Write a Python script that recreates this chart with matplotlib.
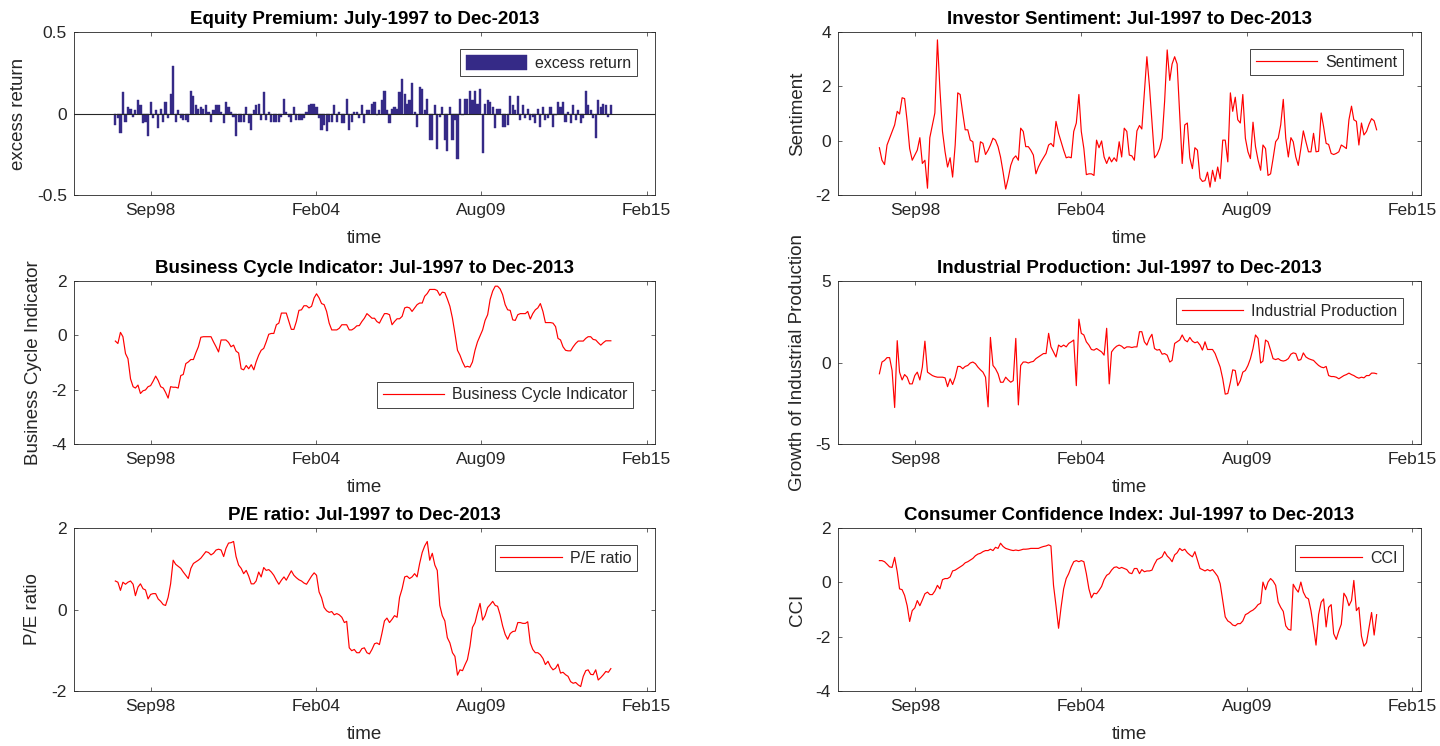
import matplotlib
matplotlib.use('Agg')
import matplotlib.pyplot as plt
import pandas as pd
from matplotlib.ticker import FormatStrFormatter

plt.rcParams['font.family'] = ['Liberation Sans', 'DejaVu Sans']
plt.rcParams['axes.unicode_minus'] = False

start_month = '1997-07-01'
tick_dates = ['1998-09-03', '2004-02-24', '2009-08-17', '2015-02-06']
tick_labels = ['Sep98', 'Feb04', 'Aug09', 'Feb15']
x_limits = ['1996-02-17', '2015-05-20']

equity = [-0.07,-0.03,-0.12,0.13,-0.05,0.04,0.03,-0.02,0.02,0.08,
0.05,-0.06,-0.05,-0.14,0.07,-0.03,0.02,-0.09,0.03,-0.05,
0.07,-0.03,0.12,0.29,-0.05,0.02,-0.03,-0.04,-0.04,-0.05,
0.14,0.11,0.05,0.03,0.04,0.03,0.05,0.01,-0.05,0.02,
0.05,0.05,0.01,-0.06,0.07,0.04,0.01,-0.02,-0.14,-0.05,
-0.05,-0.05,0.04,-0.06,-0.10,0.02,0.05,0.06,-0.04,0.13,
-0.04,0.01,-0.05,-0.05,-0.05,-0.05,-0.02,0.09,0.01,-0.02,
-0.05,0.04,-0.04,-0.04,-0.04,-0.03,0.01,0.05,0.06,0.06,
0.04,-0.03,-0.10,-0.07,-0.11,-0.05,-0.05,0.05,-0.05,0.01,
-0.06,-0.06,0.09,-0.10,-0.05,0.01,0.01,-0.03,0.05,-0.06,
0.02,0.02,0.06,0.07,-0.01,0.02,0.08,0.14,0.02,-0.06,
0.03,0.04,0.03,0.13,0.21,0.12,0.06,0.08,0.19,0.01,
-0.08,0.16,0.15,0.02,0.09,-0.16,-0.16,0.05,-0.22,-0.02,
0.04,-0.16,-0.23,0.04,-0.16,-0.04,-0.28,0.09,-0.01,0.09,
0.09,0.14,0.08,0.14,0.06,0.15,-0.24,0.06,0.08,0.07,
0.04,-0.09,0.03,0.03,-0.08,-0.08,-0.07,0.11,0.05,0.02,
0.11,-0.04,0.05,-0.03,0.03,-0.04,-0.02,-0.06,0.03,-0.08,
0.04,-0.04,-0.03,0.04,-0.08,-0.01,0.07,0.04,0.07,-0.05,
0.01,-0.06,0.05,-0.04,0.02,-0.06,-0.03,0.14,0.05,0.02,
-0.03,-0.15,0.08,0.04,0.06,0.05,-0.02,0.05]

sentiment = [-0.26,-0.72,-0.88,-0.16,0.09,0.34,0.58,1.08,0.98,1.58,
1.55,0.71,-0.29,-0.72,-0.53,-0.35,0.11,-0.84,-0.72,-1.75,
0.11,0.58,1.02,3.71,1.89,0.34,-0.41,-0.97,-0.63,-1.34,
-0.16,1.76,1.70,1.02,0.40,0.40,0.02,-0.04,-0.78,-0.78,
-0.04,-0.10,-0.51,-0.35,-0.16,0.09,0.02,-0.22,-0.60,-1.16,
-1.78,-1.40,-0.91,-0.66,-0.56,-0.72,0.46,0.34,-0.22,-0.22,
-0.35,-0.53,-1.22,-0.97,-0.78,-0.63,-0.47,-0.16,-0.10,-0.22,
0.71,0.27,-0.04,-0.35,-0.63,-0.60,-0.63,0.34,0.65,
1.70,0.34,-0.29,-1.25,-1.22,-1.22,-1.28,0.02,-0.26,-0.01,
-0.60,-0.84,-0.60,-0.78,-0.63,-0.76,-0.04,-0.60,0.46,0.34,
-0.53,-0.56,-0.72,0.36,0.56,0.43,1.76,3.09,2.01,0.71,
-0.63,-0.51,-0.29,0.09,1.45,3.34,2.22,2.82,3.09,2.82,
0.96,-0.84,0.58,0.65,-0.63,-1.03,-0.26,-0.35,-1.38,-1.50,
-1.47,-1.16,-1.71,-1.09,-1.50,-0.97,-1.40,0.02,0.02,-0.78,
1.76,1.08,1.60,0.77,0.65,1.70,0.09,-0.41,-0.66,0.68,
-0.22,-0.72,-1.09,-0.16,-0.29,-1.28,-1.22,-0.66,-0.04,0.09,
0.58,1.52,0.09,-0.60,0.11,-0.04,-0.60,-0.91,-0.29,0.36,
-0.04,-0.41,-0.41,0.27,-0.41,-0.39,1.02,0.52,-0.10,-0.14,
-0.47,-0.51,-0.47,-0.41,-0.16,-0.22,-0.29,0.77,1.27,0.77,
0.71,-0.16,0.65,0.21,0.34,0.61,0.81,0.73,0.40]

business_cycle = [-0.21,-0.30,0.11,-0.05,-0.67,-0.86,-1.60,-1.89,-1.94,-1.83,
-2.14,-2.04,-2.01,-1.89,-1.85,-1.69,-1.50,-1.66,-1.89,-1.94,
-2.10,-2.31,-1.89,-1.91,-1.91,-1.94,-1.48,-1.44,-1.04,-0.98,
-0.89,-0.89,-0.65,-0.42,-0.07,-0.05,-0.05,-0.05,-0.05,-0.24,
-0.42,-0.61,-0.17,-0.17,-0.17,-0.26,-0.42,-0.36,-0.58,-0.65,
-1.23,-1.27,-1.11,-1.23,-1.08,-1.27,-0.98,-0.73,-0.55,-0.48,
-0.24,0.04,0.07,0.07,0.39,0.45,0.82,0.82,0.82,0.51,
0.22,0.22,0.51,0.92,0.94,1.09,1.09,1.01,1.07,1.38,
1.53,1.38,1.17,1.13,0.88,0.45,0.20,0.20,0.20,0.26,
0.39,0.39,0.39,0.20,0.20,0.26,0.35,0.36,0.51,0.63,
0.80,0.72,0.63,0.63,0.51,0.45,0.63,0.80,0.80,0.76,
0.39,0.51,0.61,0.61,0.70,1.01,1.04,1.01,0.88,1.01,
1.13,1.19,1.19,1.44,1.54,1.69,1.69,1.69,1.65,1.47,
1.59,1.57,1.34,1.07,0.63,0.07,-0.55,-0.73,-0.98,-1.17,
-1.14,-1.17,-0.98,-0.55,-0.24,-0.02,0.20,0.55,0.76,1.32,
1.63,1.81,1.81,1.71,1.50,1.13,0.94,0.92,0.57,0.55,
0.76,0.80,0.80,0.80,0.88,0.60,0.80,0.94,1.01,1.17,
0.88,0.47,0.47,0.47,0.45,0.32,-0.11,-0.17,-0.42,-0.55,
-0.57,-0.57,-0.42,-0.30,-0.21,-0.21,-0.21,-0.11,-0.05,-0.05,
-0.15,-0.17,-0.27,-0.36,-0.27,-0.20,-0.20,-0.20]

industrial_production = [-0.69,0.03,0.13,0.30,0.30,-0.49,-2.76,1.34,-0.59,-1.07,
-0.74,-0.90,-1.31,-1.31,-0.80,-0.59,-1.07,-0.28,1.31,-0.59,
-0.69,-0.80,-0.86,-0.90,-0.90,-0.90,-0.94,-1.48,-1.00,-1.35,
-0.90,-0.24,-0.24,-0.38,-0.24,-0.18,-0.03,0.03,-0.07,-0.28,
-0.45,-0.59,-0.90,-2.72,1.54,-0.18,-0.38,-0.69,-1.21,-1.21,
-0.90,-1.07,-1.21,-1.11,1.48,-2.60,-0.18,0.03,0.03,-0.03,
0.03,0.07,0.24,0.34,0.45,0.55,0.55,1.79,0.96,0.65,
0.34,1.07,0.96,1.07,0.96,1.17,1.27,1.38,-1.42,2.66,
1.79,1.69,1.27,1.07,0.80,0.76,0.86,0.76,0.65,0.45,
2.10,-1.31,0.65,0.86,1.00,1.07,1.00,0.86,0.96,0.96,
0.92,0.96,0.96,1.89,1.89,1.27,1.07,1.48,1.73,0.86,
0.76,0.80,0.51,0.55,0.45,0.03,0.13,1.17,1.27,1.38,
1.69,1.38,1.27,1.54,1.31,1.21,1.27,1.07,0.76,1.27,
0.80,0.80,0.80,0.55,0.13,-0.28,-1.00,-1.94,-1.90,-1.21,
-0.45,-0.49,-1.42,-1.11,-0.59,-0.49,-0.18,0.24,0.86,1.69,
1.48,-0.03,0.09,1.38,1.27,0.76,0.24,0.18,0.24,0.13,
0.09,0.13,0.24,0.51,0.59,0.55,0.13,0.18,0.59,0.34,
0.24,0.18,0.13,-0.03,-0.18,-0.28,-0.32,-0.24,-0.80,-0.86,
-0.86,-0.90,-1.00,-0.90,-0.80,-0.74,-0.65,-0.74,-0.80,-0.90,
-0.96,-0.90,-0.94,-0.80,-0.80,-0.65,-0.65,-0.69]

pe_ratio = [0.70,0.67,0.47,0.67,0.62,0.67,0.70,0.62,0.34,0.55,
0.63,0.51,0.48,0.26,0.37,0.39,0.39,0.26,0.20,0.12,
0.10,0.30,0.63,1.21,1.11,1.06,1.01,0.92,0.84,0.76,
1.01,1.13,1.17,1.21,1.26,1.34,1.42,1.40,1.34,1.38,
1.46,1.48,1.46,1.30,1.50,1.63,1.64,1.67,1.30,1.09,
1.01,0.88,0.96,0.82,0.63,0.63,0.70,0.92,0.80,1.03,
0.96,0.98,0.92,0.84,0.72,0.62,0.72,0.80,0.72,0.84,
0.95,0.84,0.78,0.73,0.70,0.65,0.62,0.72,0.82,0.90,
0.84,0.43,0.29,0.05,-0.03,-0.07,-0.05,-0.13,-0.10,-0.13,
-0.19,-0.32,-0.29,-0.94,-1.01,-0.98,-1.06,-1.06,-0.96,-0.94,
-1.06,-1.09,-0.98,-0.84,-0.82,-0.86,-0.59,-0.28,-0.21,-0.32,
-0.24,-0.15,-0.19,0.30,0.51,0.80,0.82,0.76,0.80,0.88,
0.80,1.13,1.40,1.56,1.67,1.21,1.38,1.09,0.96,0.10,
-0.15,-0.28,-0.69,-0.82,-1.06,-1.15,-1.61,-1.48,-1.50,-1.35,
-1.23,-0.90,-0.44,-0.32,-0.07,0.15,-0.26,-0.15,0.05,0.12,
0.20,0.10,0.08,-0.13,-0.40,-0.61,-0.73,-0.59,-0.54,-0.53,
-0.32,-0.32,-0.34,-0.34,-0.30,-0.82,-0.98,-1.06,-1.06,-1.11,
-1.20,-1.35,-1.27,-1.40,-1.48,-1.44,-1.34,-1.56,-1.54,-1.60,
-1.64,-1.77,-1.81,-1.79,-1.85,-1.89,-1.64,-1.50,-1.48,
-1.59,-1.60,-1.48,-1.73,-1.67,-1.60,-1.52,-1.54,-1.45]

cci = [0.80,0.80,0.76,0.67,0.57,0.55,0.92,0.39,-0.24,-0.27,
-0.48,-0.86,-1.44,-1.04,-0.94,-0.67,-0.86,-0.65,-0.42,-0.36,
-0.45,-0.45,-0.32,-0.11,-0.24,0.10,0.14,0.14,0.20,0.42,
0.45,0.51,0.57,0.63,0.72,0.76,0.82,0.88,0.98,1.04,
1.07,1.13,1.17,1.17,1.22,1.17,1.29,1.25,1.44,1.32,
1.25,1.22,1.19,1.17,1.19,1.17,1.19,1.22,1.22,1.23,
1.25,1.25,1.25,1.25,1.29,1.32,1.34,1.38,1.34,-0.11,
-0.86,-1.69,-0.92,-0.24,0.14,0.32,0.57,0.76,0.80,0.76,
0.80,0.76,0.32,-0.24,-0.57,-0.40,-0.42,-0.30,-0.15,0.10,
0.26,0.32,0.45,0.55,0.57,0.51,0.55,0.51,0.47,
0.35,0.32,0.51,0.51,0.32,0.47,0.39,0.42,0.42,0.45,
0.67,0.84,0.88,0.94,1.13,0.97,0.88,0.76,1.01,1.09,
1.25,1.17,1.22,1.09,1.01,0.94,1.13,0.82,0.51,0.47,
0.42,0.47,0.42,0.47,0.35,0.22,-0.05,-0.67,-1.27,-1.42,
-1.48,-1.57,-1.60,-1.52,-1.52,-1.42,-1.19,-1.14,-1.07,-1.02,
-0.94,-0.82,-0.77,0.01,-0.27,0.01,0.14,0.05,-0.11,-0.73,
-0.92,-1.07,-1.60,-1.73,-1.76,-0.07,-0.24,-0.36,0.01,-0.36,
-0.55,-0.61,-1.04,-1.66,-2.31,-1.19,-0.73,-0.61,-1.64,-0.92,
-0.82,-1.89,-2.10,-1.79,-1.54,-0.40,-0.55,-0.86,-0.67,0.07,
-1.04,-0.92,-1.98,-2.35,-2.22,-1.66,-1.11,-1.94,-1.19]

titles = ['Equity Premium: July-1997 to Dec-2013',
          'Investor Sentiment: Jul-1997 to Dec-2013',
          'Business Cycle Indicator: Jul-1997 to Dec-2013',
          'Industrial Production: Jul-1997 to Dec-2013',
          'P/E ratio: Jul-1997 to Dec-2013',
          'Consumer Confidence Index: Jul-1997 to Dec-2013']
ylabels = ['excess return', 'Sentiment', 'Business Cycle Indicator',
           'Growth of Industrial Production', 'P/E ratio', 'CCI']
legend_labels = ['excess return', 'Sentiment', 'Business Cycle Indicator',
                 'Industrial Production', 'P/E ratio', 'CCI']
series = [equity, sentiment, business_cycle, industrial_production, pe_ratio, cci]
ylims = [(-0.5, 0.5), (-2, 4), (-4, 2), (-5, 5), (-2, 2), (-4, 2)]
yticks = [[-0.5, 0, 0.5], [-2, 0, 2, 4], [-4, -2, 0, 2], [-5, 0, 5], [-2, 0, 2], [-4, -2, 0, 2]]

DARK = '#262626'
BAR = '#352a87'

LX, LW = 0.0514, 0.4035
RX, RW = 0.5819, 0.4049
H = 0.2185
rows = [0.7386, 0.4048, 0.0737]
positions = [[LX, rows[0], LW, H], [RX, rows[0], RW, H],
             [LX, rows[1], LW, H], [RX, rows[1], RW, H],
             [LX, rows[2], LW, H], [RX, rows[2], RW, H]]
ylabel_x = [-0.095, -0.069, -0.070, -0.069, -0.071, -0.070]
legend_loc = ['upper right', 'upper right', 'lower right', 'upper right', 'upper right', 'upper right']
legend_anchor = [(0.969, 0.896), (0.969, 0.896), (0.962, 0.221), (0.969, 0.896), (0.969, 0.896), (0.969, 0.896)]

fig = plt.figure(figsize=(14.4, 7.46), dpi=100)
xt = pd.to_datetime(tick_dates)

for k in range(6):
    ax = fig.add_axes(positions[k])
    y = series[k]
    dates = pd.date_range(start_month, periods=len(y), freq='MS')
    if k == 0:
        ax.bar(dates, y, width=26, color=BAR, edgecolor=BAR, linewidth=0.3,
               label=legend_labels[k], zorder=2)
        ax.axhline(0, color=DARK, lw=0.8, zorder=3)
    else:
        ax.plot(dates, y, color='red', lw=0.85, label=legend_labels[k])
    ax.set_xlim(pd.Timestamp(x_limits[0]), pd.Timestamp(x_limits[1]))
    ax.set_xticks(list(xt))
    ax.set_xticklabels(tick_labels)
    ax.set_ylim(*ylims[k])
    ax.set_yticks(yticks[k])
    ax.yaxis.set_major_formatter(FormatStrFormatter('%g'))
    ax.tick_params(direction='in', length=3.2, width=0.5, top=True, right=True,
                   colors=DARK, labelsize=12.5)
    ax.tick_params(axis='x', pad=6)
    ax.tick_params(axis='y', pad=5)
    for s in ax.spines.values():
        s.set_linewidth(0.6)
        s.set_color(DARK)
    ax.set_title(titles[k], fontsize=13.5, fontweight='bold', color='black', pad=6)
    ax.set_xlabel('time', fontsize=13.5, color=DARK)
    ax.xaxis.set_label_coords(0.5, -0.264)
    ax.xaxis.label.set_va('center')
    ax.set_ylabel(ylabels[k], fontsize=13.5, color=DARK)
    ax.yaxis.set_label_coords(ylabel_x[k], 0.5)
    ax.yaxis.label.set_va('center')
    leg = ax.legend(loc=legend_loc[k], bbox_to_anchor=legend_anchor[k], borderaxespad=0,
                    fontsize=11.5, frameon=True, fancybox=False, edgecolor=DARK,
                    framealpha=1, borderpad=0.35, handlelength=3.85, handletextpad=0.5,
                    handleheight=(1.1 if k == 0 else 0.7))
    leg.get_frame().set_linewidth(0.6)
    for t in leg.get_texts():
        t.set_color(DARK)

fig.savefig('out.png', dpi=100)
